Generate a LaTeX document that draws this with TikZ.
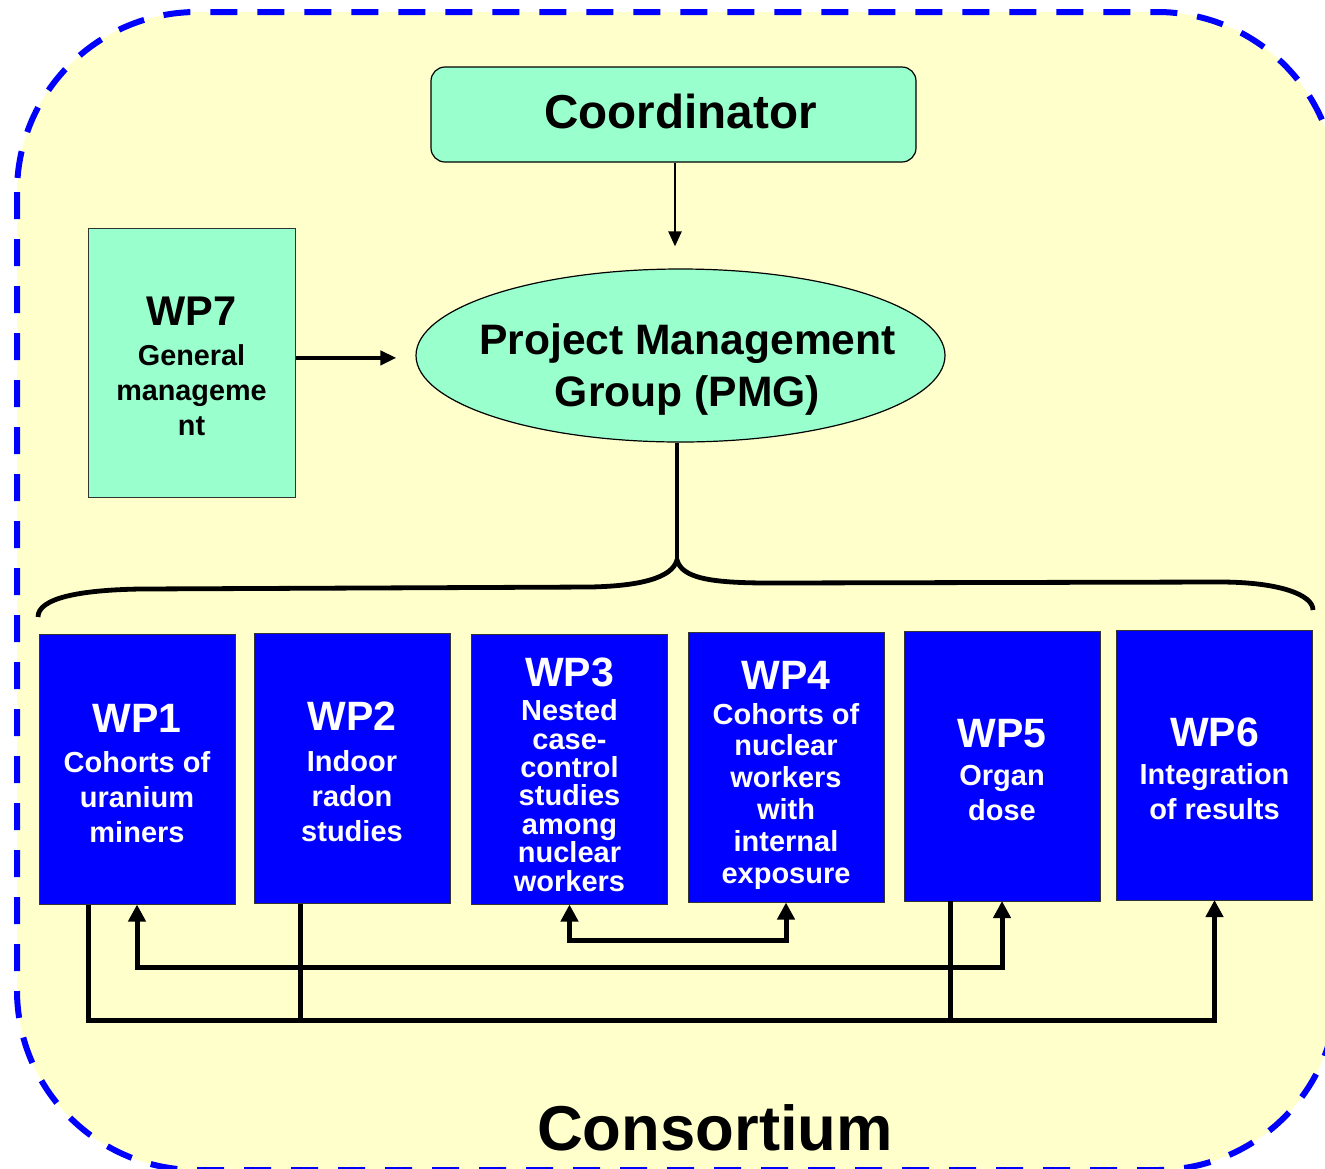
\documentclass[tikz,border=0pt]{standalone}
\usepackage{fontspec}
\setmainfont{Liberation Sans}
\usetikzlibrary{arrows.meta,shapes.geometric}
\definecolor{bgyellow}{HTML}{FFFFCC}
\definecolor{mint}{HTML}{99FFCC}
\definecolor{wpblue}{HTML}{0000FF}
\newcommand\wptitle[1]{{\fontsize{20.5}{20.5}\selectfont #1}}
\tikzset{
  wpbox/.style={draw=black!80, line width=0.5pt, fill=wpblue,
    minimum width=98pt, minimum height=135pt, inner sep=0pt, outer sep=0pt},
  wptext/.style={text=white, align=center, inner sep=0pt,
    font=\fontsize{14.5}{17.5}\selectfont\bfseries},
  conn/.style={line width=2.5pt, black},
  tip/.style={-{Triangle[width=8.5pt,length=8.5pt]}},
  tips/.style={{Triangle[width=8.5pt,length=8.5pt]}-{Triangle[width=8.5pt,length=8.5pt]}}
}
\begin{document}
\begin{tikzpicture}[x=0.5pt,y=-0.5pt]
\useasboundingbox (0,0) rectangle (1325,1168);
% consortium frame
\draw[wpblue, fill=bgyellow, line width=3pt, dash pattern=on 13.5pt off 10pt,
      rounded corners=90pt] (17,12) rectangle (1337,1170);
% coordinator
\node[draw=black, line width=0.6pt, fill=mint, rounded corners=7pt,
      minimum width=242.5pt, minimum height=47.5pt, inner sep=0pt,
      label={[font=\fontsize{23.8}{28}\selectfont\bfseries, xshift=3.5pt, yshift=1.5pt]center:Coordinator}]
      (coord) at (673.5,114.5) {};
% PMG ellipse
\node[ellipse, draw=black, line width=0.6pt, fill=mint, minimum width=264.5pt,
      minimum height=86.5pt, inner sep=0pt,
      label={[align=center, font=\fontsize{21.3}{26}\selectfont\bfseries, xshift=3.5pt, yshift=-7pt]center:Project Management\\Group (PMG)}]
      (pmg) at (680.5,355.5) {};
% WP7
\node[draw=black!80, line width=0.5pt, fill=mint, minimum width=103.5pt,
      minimum height=134.5pt, inner sep=0pt,
      label={[align=center, inner sep=0pt, yshift=-2pt, font=\fontsize{14.4}{17.5}\selectfont\bfseries]center:{\fontsize{20.75}{20.75}\selectfont WP7}\\[2.5pt]General\\manageme\\nt}]
      (wp7) at (191.5,362.5) {};
% arrows to PMG
\draw[line width=1.2pt, -{Triangle[width=6.5pt,length=7.5pt]}, shorten >=11pt]
  ([xshift=0.75pt]coord.south) -- ([xshift=0.75pt]coord.south |- pmg.north);
\draw[line width=2pt, -{Triangle[width=7pt,length=8pt]}, shorten >=9.5pt]
  ([yshift=-1.2pt]wp7.east |- pmg.west) -- ([yshift=-1.2pt]pmg.west);
% WP boxes
\node[wpbox, label={[wptext, yshift=-2pt]center:\wptitle{WP1}\\[2.5pt]Cohorts of\\uranium\\miners}]
  (wp1) at (137,769.5) {};
\node[wpbox, label={[wptext, yshift=-1.6pt]center:\wptitle{WP2}\\[2.75pt]Indoor\\radon\\studies}]
  (wp2) at (352,768.5) {};
\node[wpbox, label={[wptext, font=\fontsize{14.5}{14.2}\selectfont\bfseries, yshift=-2.6pt]center:\wptitle{WP3}\\[2.75pt]Nested\\case-\\control\\studies\\among\\nuclear\\workers}]
  (wp3) at (569.5,769.5) {};
\node[wpbox, label={[wptext, font=\fontsize{14.5}{15.9}\selectfont\bfseries, yshift=-3.9pt]center:\wptitle{WP4}\\[1.25pt]Cohorts of\\nuclear\\workers\\with\\internal\\exposure}]
  (wp4) at (786,767.5) {};
\node[wpbox, label={[wptext, yshift=-2pt]center:\wptitle{WP5}\\[1.5pt]Organ\\dose}]
  (wp5) at (1002,766) {};
\node[wpbox, label={[wptext, yshift=-1.9pt]center:\wptitle{WP6}\\[1.75pt]Integration\\of results}]
  (wp6) at (1214.5,765) {};
% brace from PMG
\coordinate (bt) at (677,560);
\draw[conn, line width=2.2pt] (pmg.south -| bt) -- (bt);
\draw[conn, line width=2.4pt] (38,617) .. controls (38,598) and (80,590) .. (140,589)
  -- (590,587) .. controls (640,586) and (672,578) .. (bt)
  .. controls (682,578) and (710,583) .. (770,583)
  -- (1220,582) .. controls (1280,582) and (1313,595) .. (1313,610);
% bottom connectors
\coordinate (busA) at (0,1020);
\coordinate (busB) at (0,967);
\coordinate (busC) at (0,940);
\draw[conn, tip] ([xshift=-24.5pt]wp1.south) |- (wp6.south |- busA) -- (wp6.south);
\draw[conn] ([xshift=-26pt]wp2.south) -- ([xshift=-26pt]wp2.south |- busA);
\draw[conn] ([xshift=-26pt]wp5.south) -- ([xshift=-26pt]wp5.south |- busA);
\draw[conn, tips] (wp1.south) |- (wp5.south |- busB) -- (wp5.south);
\draw[conn, tips] (wp3.south) |- (wp4.south |- busC) -- (wp4.south);
% label
\node[font=\fontsize{31.7}{36}\selectfont\bfseries] (cons) at (715,1128) {Consortium};
\end{tikzpicture}
\end{document}
